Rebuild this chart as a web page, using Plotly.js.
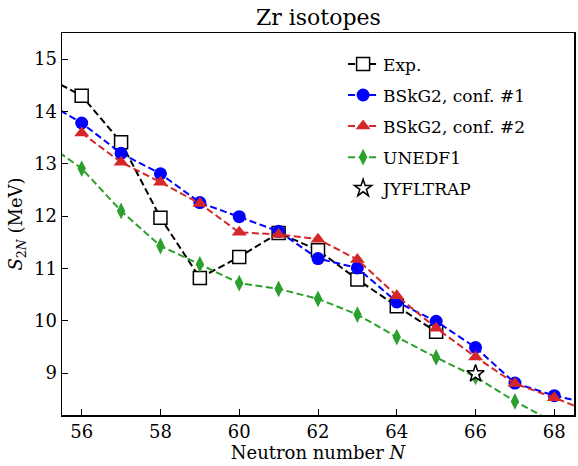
<!DOCTYPE html>
<html>
<head>
<meta charset="utf-8">
<script src="https://cdn.plot.ly/plotly-3.0.1.min.js"></script>
<style>html,body{margin:0;padding:0;background:#fff;}#chart{width:578px;height:466px;}</style>
</head>
<body>
<div id="chart"></div>
<script>
const expN = [55, 56, 57, 58, 59, 60, 61, 62, 63, 64, 65];
const expS2N = [14.70, 14.30, 13.41, 11.97, 10.82, 11.22, 11.68, 11.35, 10.79, 10.28, 9.79];

const bsk1N = [55, 56, 57, 58, 59, 60, 61, 62, 63, 64, 65, 66, 67, 68, 69];
const bsk1S2N = [14.22, 13.78, 13.20, 12.81, 12.26, 11.99, 11.71, 11.19, 11.01, 10.36, 9.99, 9.49, 8.81, 8.57, 8.40];

const bsk2N = [56, 57, 58, 59, 60, 61, 62, 63, 64, 65, 66, 67, 68, 69];
const bsk2S2N = [13.59, 13.03, 12.65, 12.24, 11.69, 11.65, 11.56, 11.17, 10.48, 9.86, 9.31, 8.80, 8.53, 8.23];

const unedfN = [55, 56, 57, 58, 59, 60, 61, 62, 63, 64, 65, 66, 67, 68];
const unedfS2N = [13.45, 12.91, 12.10, 11.43, 11.08, 10.72, 10.61, 10.42, 10.12, 9.69, 9.30, 8.93, 8.46, 8.06];

const jyflN = [66];
const jyflS2N = [8.99];
const jyflErr = [0.02];

const serif = "'DejaVu Serif', 'Liberation Serif', serif";
const dash = "7px,3.5px";

const traces = [
  {x: expN, y: expS2N, name: "Exp.", mode: "lines+markers", legendgroup: "a",
   line: {color: "black", width: 2, dash: dash},
   marker: {symbol: "square", size: 13, color: "white", line: {color: "black", width: 1.5}}},
  {x: bsk1N, y: bsk1S2N, name: "BSkG2, conf. #1", mode: "lines+markers", legendgroup: "b",
   line: {color: "#0000ff", width: 2, dash: dash},
   marker: {symbol: "circle", size: 13, color: "#0000ff"}},
  {x: bsk2N, y: bsk2S2N, name: "BSkG2, conf. #2", mode: "lines+markers", legendgroup: "c",
   line: {color: "#d62728", width: 2, dash: dash},
   marker: {symbol: "triangle-up", size: 13, color: "#d62728"}},
  {x: unedfN, y: unedfS2N, name: "UNEDF1", mode: "lines+markers", legendgroup: "d",
   line: {color: "#2ca02c", width: 2, dash: dash},
   marker: {symbol: "diamond-tall", size: 12, color: "#2ca02c"}},
  {x: jyflN, y: jyflS2N, name: "JYFLTRAP", mode: "markers", legendgroup: "e",
   error_y: {type: "data", array: jyflErr, visible: true, color: "black", thickness: 1.5, width: 5},
   marker: {symbol: "star", size: 13, color: "white", line: {color: "black", width: 1.5}}}
];

const layout = {
  width: 578, height: 466,
  margin: {l: 62, r: 4, t: 33, b: 51},
  paper_bgcolor: "white", plot_bgcolor: "white",
  font: {family: serif, size: 17, color: "black"},
  annotations: [{text: "Zr isotopes", xref: "paper", yref: "paper", x: 0.5, y: 1, xanchor: "center",
                 yanchor: "bottom", yshift: 1, showarrow: false,
                 font: {family: serif, size: 22, color: "black"}}],
  showlegend: true,
  legend: {x: 0.549, y: 0.965, xanchor: "left", yanchor: "top", bgcolor: "rgba(0,0,0,0)",
           font: {family: serif, size: 17, color: "black"}, traceorder: "grouped", tracegroupgap: 6},
  xaxis: {range: [55.5, 68.5], tickvals: [56, 58, 60, 62, 64, 66, 68], ticks: "inside", ticklen: 6,
          tickwidth: 1, tickcolor: "black", showline: true, linecolor: "black", linewidth: 1.5, mirror: true,
          showgrid: false, zeroline: false, tickfont: {family: serif, size: 18},
          title: {text: "Neutron number <i>N</i>", font: {family: serif, size: 18}, standoff: 4}},
  yaxis: {range: [8.2, 15.5], tickvals: [9, 10, 11, 12, 13, 14, 15], ticks: "inside", ticklen: 6,
          tickwidth: 1, tickcolor: "black", showline: true, linecolor: "black", linewidth: 1.5, mirror: true,
          showgrid: false, zeroline: false, tickfont: {family: serif, size: 18},
          title: {text: "<i>S</i><sub>2<i>N</i></sub> (MeV)", font: {family: serif, size: 18}, standoff: 6}}
};

Plotly.newPlot("chart", traces, layout, {displayModeBar: false, staticPlot: true});
</script>
</body>
</html>
